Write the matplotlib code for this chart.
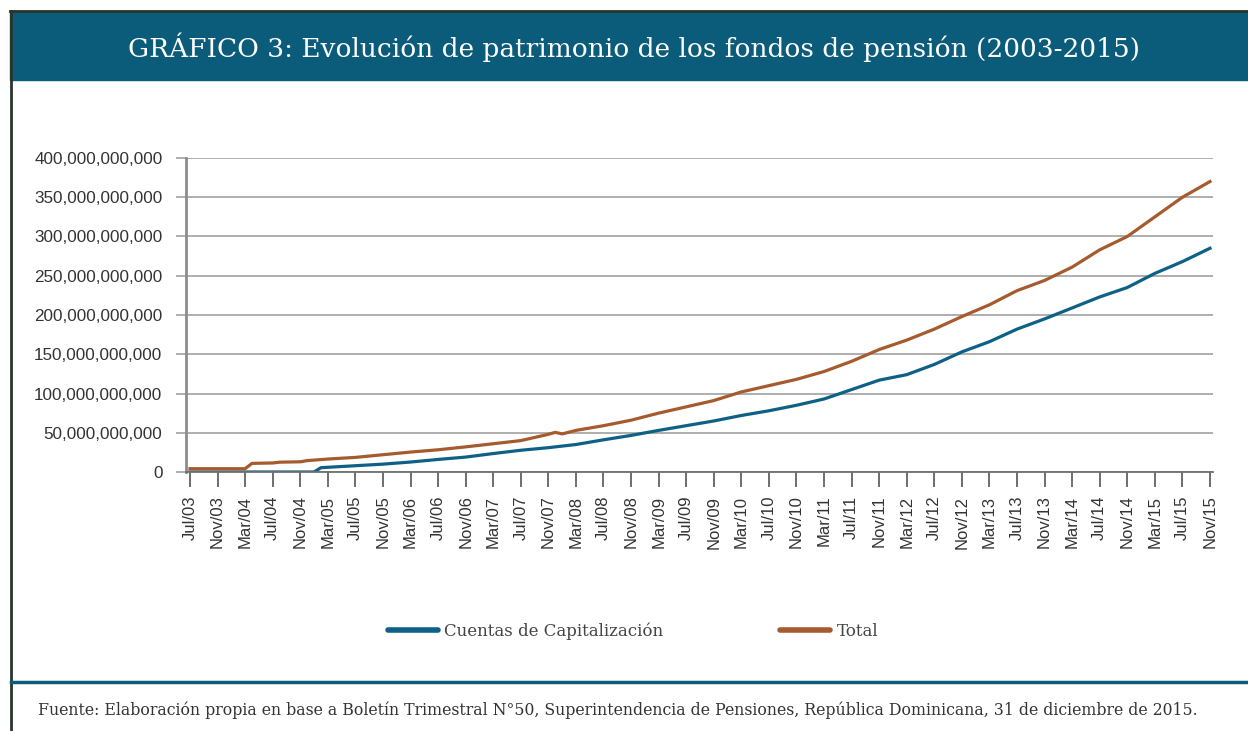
import matplotlib
matplotlib.use('Agg')
import matplotlib.pyplot as plt
from matplotlib.lines import Line2D
from matplotlib.ticker import FuncFormatter
import numpy as np

# ---- data (billions of RD$) ----------------------------------------
TOTAL_DATES = ['2003-07', '2004-03', '2004-04', '2004-07', '2004-08', '2004-11',
               '2004-12', '2005-03', '2005-07', '2005-11', '2006-03', '2006-07',
               '2006-11', '2007-03', '2007-07', '2007-11', '2007-12', '2008-01',
               '2008-03', '2008-07', '2008-11', '2009-03', '2009-07', '2009-11',
               '2010-03', '2010-07', '2010-11', '2011-03', '2011-07', '2011-11',
               '2012-03', '2012-07', '2012-11', '2013-03', '2013-07', '2013-11',
               '2014-03', '2014-07', '2014-11', '2015-03', '2015-07', '2015-11']
TOTAL_VALS = [4.2, 4.2, 11.0, 11.5, 12.5, 13.0,
              14.5, 16.5, 18.6, 22.0, 25.4, 28.3,
              32.0, 36.0, 40.0, 48.0, 50.5, 48.5,
              53.0, 59.0, 66.0, 75.0, 83.0, 91.0,
              102.0, 110.0, 118.0, 128.0, 141.0, 156.0,
              168.0, 182.0, 198.0, 213.0, 231.0, 244.0,
              261.0, 283.0, 300.0, 325.0, 350.0, 370.0]

CUENTAS_DATES = ['2003-07', '2005-01', '2005-02', '2005-03', '2005-07', '2005-11',
                 '2006-03', '2006-07', '2006-11', '2007-03', '2007-07', '2007-11',
                 '2008-03', '2008-07', '2008-11', '2009-03', '2009-07', '2009-11',
                 '2010-03', '2010-07', '2010-11', '2011-03', '2011-07', '2011-11',
                 '2012-03', '2012-07', '2012-11', '2013-03', '2013-07', '2013-11',
                 '2014-03', '2014-07', '2014-11', '2015-03', '2015-07', '2015-11']
CUENTAS_VALS = [0.0, 0.0, 5.5, 6.0, 8.0, 10.0,
                12.7, 16.0, 19.0, 23.5, 27.7, 31.0,
                35.0, 41.0, 46.6, 53.0, 59.0, 65.0,
                72.0, 78.0, 85.0, 93.0, 105.0, 117.0,
                124.0, 137.0, 153.0, 166.0, 182.0, 195.0,
                209.0, 223.0, 235.0, 253.0, 268.0, 285.0]

MONTHS_ES = ['Jan', 'Feb', 'Mar', 'Apr', 'May', 'Jun',
             'Jul', 'Aug', 'Sep', 'Oct', 'Nov', 'Dec']
START = (2003, 7)
END = (2015, 11)
TITLE = 'GRÁFICO 3: Evolución de patrimonio de los fondos de pensión (2003-2015)'
SOURCE = ('Fuente: Elaboración propia en base a Boletín Trimestral N°50, Superintendencia '
          'de Pensiones, República Dominicana, 31 de diciembre de 2015.')

BLUE = '#0f6086'
BROWN = '#a65b2f'
BAR = '#0b5b7a'


def month_index(s):
    y, m = map(int, s.split('-'))
    return (y - START[0]) * 12 + (m - START[1])


n_months = (END[0] - START[0]) * 12 + (END[1] - START[1]) + 1
tick_pos = np.arange(0, n_months, 4)
tick_lab = []
for k in tick_pos:
    y = START[0] + (START[1] - 1 + k) // 12
    m = (START[1] - 1 + k) % 12
    tick_lab.append(f'{MONTHS_ES[m]}/{y % 100:02d}')

fig = plt.figure(figsize=(12.48, 7.31), dpi=100)
W, H = 1248, 731

# frame pieces: title bar, left rule, bottom teal rule
fig.patches.append(plt.Rectangle((10 / W, 1 - 80 / H), 1, 69 / H, transform=fig.transFigure,
                                 color=BAR, zorder=0))
fig.lines.append(Line2D([10 / W, 1], [1 - 11 / H, 1 - 11 / H], transform=fig.transFigure,
                        color='#26362a', lw=2))
fig.lines.append(Line2D([11 / W, 11 / W], [0, 1 - 11 / H], transform=fig.transFigure,
                        color='#26362a', lw=2))
fig.lines.append(Line2D([11 / W, 1], [1 - 682 / H, 1 - 682 / H], transform=fig.transFigure,
                        color=BAR, lw=2.5))

fig.text(634 / W, 1 - 47 / H, TITLE, color='white', fontsize=19, family='DejaVu Serif',
         ha='center', va='center')
fig.text(38 / W, 1 - 710 / H, SOURCE, color='#333333', fontsize=11.3, family='DejaVu Serif',
         ha='left', va='center')

ax = fig.add_axes([186 / W, 1 - 472 / H, 1027 / W, 314 / H])
x_t = [month_index(d) for d in TOTAL_DATES]
x_c = [month_index(d) for d in CUENTAS_DATES]
ax.plot(x_c, CUENTAS_VALS, color=BLUE, lw=2.3, solid_joinstyle='round')
ax.plot(x_t, TOTAL_VALS, color=BROWN, lw=2.3, solid_joinstyle='round')

ax.set_xlim(-0.58, n_months - 1 + 0.44)
ax.set_ylim(0, 400)
ax.set_yticks(np.arange(0, 401, 50))
ax.yaxis.set_major_formatter(FuncFormatter(lambda v, p: f'{int(v * 1e9):,}'))
ax.set_xticks(tick_pos)
ax.set_xticklabels(tick_lab, rotation=90)
ax.grid(True, axis='y', color='#a8a8a8', lw=1.3)
ax.set_axisbelow(True)
for s in ['top', 'right']:
    ax.spines[s].set_visible(False)
ax.spines['left'].set_color('#8c8c8c')
ax.spines['left'].set_linewidth(2)
ax.spines['bottom'].set_color('#707070')
ax.spines['bottom'].set_linewidth(1.3)
ax.tick_params(axis='y', length=7, color='#a8a8a8', width=1.3, labelsize=12.3,
               labelcolor='#333333', pad=10)
ax.tick_params(axis='x', length=11, color='#555555', width=1.2, labelsize=12,
               labelcolor='#333333', pad=6)
for lab in ax.get_xticklabels() + ax.get_yticklabels():
    lab.set_family('Liberation Sans')

handles = [Line2D([], [], color=BLUE, lw=4, solid_capstyle='round'),
           Line2D([], [], color=BROWN, lw=4, solid_capstyle='round')]
fig.legend(handles, ['Cuentas de Capitalización', 'Total'], loc='center',
           bbox_to_anchor=(633 / W, 1 - 631 / H), ncol=2, frameon=False,
           handlelength=3.0, handletextpad=0.4, columnspacing=7.0,
           prop={'family': 'DejaVu Serif', 'size': 12}, labelcolor='#444444')

fig.savefig('out.png', dpi=100, facecolor='white')
